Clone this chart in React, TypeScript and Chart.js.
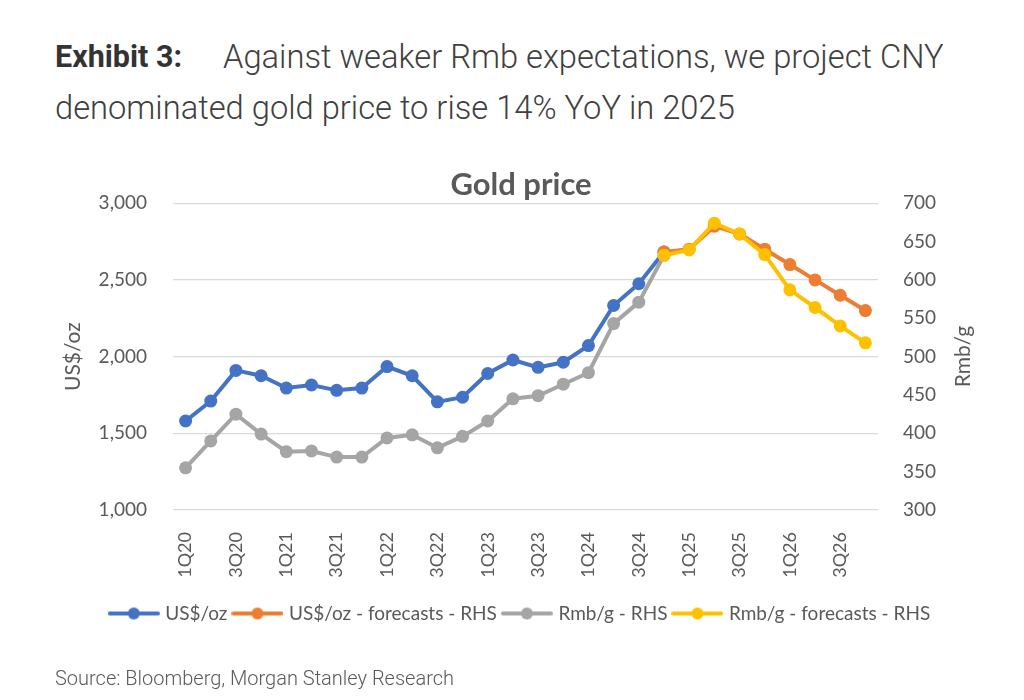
import React, { useEffect, useRef } from "react";
import { Chart, registerables } from "chart.js";

Chart.register(...registerables);

const quarters = [
  "1Q20", "2Q20", "3Q20", "4Q20",
  "1Q21", "2Q21", "3Q21", "4Q21",
  "1Q22", "2Q22", "3Q22", "4Q22",
  "1Q23", "2Q23", "3Q23", "4Q23",
  "1Q24", "2Q24", "3Q24", "4Q24",
  "1Q25", "2Q25", "3Q25", "4Q25",
  "1Q26", "2Q26", "3Q26", "4Q26",
];

const usdOz = [
  1580, 1710, 1910, 1875, 1795, 1815, 1780, 1795, 1935, 1875,
  1705, 1735, 1890, 1978, 1930, 1963, 2072, 2333, 2475, 2682,
  null, null, null, null, null, null, null, null,
];

const usdOzForecast = [
  null, null, null, null, null, null, null, null, null, null,
  null, null, null, null, null, null, null, null, null, 2682,
  2700, 2850, 2800, 2700, 2600, 2500, 2400, 2300,
];

const rmbG = [
  355, 390, 425, 399, 376, 377, 369, 369, 394, 398,
  381, 396, 416, 445, 449, 464, 479, 543, 571, 632,
  null, null, null, null, null, null, null, null,
];

const rmbGForecast = [
  null, null, null, null, null, null, null, null, null, null,
  null, null, null, null, null, null, null, null, null, 632,
  639, 674, 660, 633, 587, 564, 540, 518,
];

const seriesNames = [
  "US$/oz",
  "US$/oz - forecasts - RHS",
  "Rmb/g - RHS",
  "Rmb/g - forecasts - RHS",
];
const seriesColors = ["#4472C4", "#ED7D31", "#A5A5A5", "#FFC000"];

const FONT = "Lato, 'Open Sans', sans-serif";
const TEXT = "#595959";

function legendMarker(color: string): HTMLCanvasElement {
  const c = document.createElement("canvas");
  c.width = 52;
  c.height = 14;
  const ctx = c.getContext("2d")!;
  ctx.strokeStyle = color;
  ctx.lineWidth = 4;
  ctx.lineCap = "round";
  ctx.beginPath();
  ctx.moveTo(2, 7);
  ctx.lineTo(50, 7);
  ctx.stroke();
  ctx.fillStyle = color;
  ctx.beginPath();
  ctx.arc(26, 7, 6, 0, Math.PI * 2);
  ctx.fill();
  return c;
}

const axisTitles = {
  id: "axisTitles",
  afterDraw(chart: any) {
    const { ctx, chartArea } = chart;
    const cy = (chartArea.top + chartArea.bottom) / 2;
    ctx.save();
    ctx.fillStyle = TEXT;
    ctx.font = `21px ${FONT}`;
    ctx.textAlign = "center";
    ctx.textBaseline = "middle";
    ctx.translate(chartArea.left - 100, cy);
    ctx.rotate(-Math.PI / 2);
    ctx.fillText("US$/oz", 0, 0);
    ctx.restore();
    ctx.save();
    ctx.fillStyle = TEXT;
    ctx.font = `21px ${FONT}`;
    ctx.textAlign = "center";
    ctx.textBaseline = "middle";
    ctx.translate(chartArea.right + 85, cy);
    ctx.rotate(-Math.PI / 2);
    ctx.fillText("Rmb/g", 0, 0);
    ctx.restore();
  },
};

function GoldChart() {
  const ref = useRef<HTMLCanvasElement | null>(null);
  useEffect(() => {
    if (!ref.current) return;
    const datasets = [usdOz, usdOzForecast, rmbG, rmbGForecast].map((d, i) => ({
      label: seriesNames[i],
      data: d,
      borderColor: seriesColors[i],
      backgroundColor: seriesColors[i],
      pointBackgroundColor: seriesColors[i],
      pointBorderColor: seriesColors[i],
      pointRadius: 6.5,
      pointBorderWidth: 0,
      borderWidth: 4,
      yAxisID: i < 2 ? "y" : "y1",
      order: 4 - i,
      spanGaps: false,
    }));
    const chart = new Chart(ref.current, {
      type: "line",
      data: { labels: quarters, datasets },
      plugins: [axisTitles],
      options: {
        animation: false,
        responsive: false,
        layout: { padding: { top: 166, bottom: 67, left: 58, right: 40 } },
        plugins: {
          title: {
            display: true,
            text: "Gold price",
            color: TEXT,
            font: { family: FONT, size: 31, weight: "bold" },
            padding: { top: 0, bottom: 0 },
          },
          tooltip: { enabled: false },
          legend: {
            position: "bottom",
            labels: {
              color: TEXT,
              font: { family: FONT, size: 19 },
              usePointStyle: true,
              pointStyleWidth: 44,
              padding: 8,
              generateLabels: () =>
                seriesNames.map((name, i) => ({
                  text: name,
                  fillStyle: seriesColors[i],
                  strokeStyle: seriesColors[i],
                  fontColor: TEXT,
                  pointStyle: legendMarker(seriesColors[i]),
                  lineWidth: 0,
                  hidden: false,
                  datasetIndex: i,
                })),
            },
          },
        },
        scales: {
          x: {
            type: "category",
            offset: true,
            grid: { display: false },
            border: { display: false },
            ticks: {
              color: TEXT,
              font: { family: FONT, size: 18 },
              autoSkip: false,
              maxRotation: 90,
              minRotation: 90,
              padding: 14,
              callback: (_v: any, i: number) => (i % 2 === 0 ? quarters[i] : ""),
            },
            afterFit: (s: any) => {
              s.height = 86;
            },
          },
          y: {
            position: "left",
            min: 1000,
            max: 3000,
            grid: { color: "#D9D9D9", lineWidth: 1.3, drawTicks: false },
            border: { display: false },
            ticks: {
              stepSize: 500,
              color: TEXT,
              font: { family: FONT, size: 19 },
              padding: 26,
            },
            afterFit: (s: any) => {
              s.width = 115;
            },
          },
          y1: {
            position: "right",
            min: 300,
            max: 700,
            grid: { display: false, drawTicks: false },
            border: { display: false },
            ticks: {
              stepSize: 50,
              color: TEXT,
              font: { family: FONT, size: 19 },
              padding: 25,
            },
            afterFit: (s: any) => {
              s.width = 106;
            },
          },
        },
      },
    });
    return () => chart.destroy();
  }, []);
  return (
    <canvas
      ref={ref}
      width={1024}
      height={700}
      style={{ position: "absolute", left: 0, top: 0, width: 1024, height: 700 }}
    />
  );
}

export default function App() {
  const head: React.CSSProperties = {
    position: "absolute",
    fontFamily: "Roboto, sans-serif",
    fontSize: 32.7,
    lineHeight: "32.7px",
    whiteSpace: "nowrap",
    color: "#404040",
    fontWeight: 300,
  };
  return (
    <div style={{ position: "absolute", left: 0, top: 0, width: 1024, height: 700, background: "#fff", overflow: "hidden" }}>
      <div style={{ ...head, left: 55, top: 41, fontSize: 30.5, fontWeight: 700, color: "#333333" }}>Exhibit 3:</div>
      <div style={{ ...head, left: 223, top: 40.5 }}>Against weaker Rmb expectations, we project CNY</div>
      <div style={{ ...head, left: 55, top: 91.5 }}>denominated gold price to rise 14% YoY in 2025</div>
      <GoldChart />
      <div
        style={{
          position: "absolute",
          left: 55,
          top: 668,
          fontFamily: "Roboto, sans-serif",
          fontSize: 20,
          lineHeight: "20px",
          fontWeight: 300,
          color: TEXT,
          whiteSpace: "nowrap",
        }}
      >
        Source: Bloomberg, Morgan Stanley Research
      </div>
    </div>
  );
}
